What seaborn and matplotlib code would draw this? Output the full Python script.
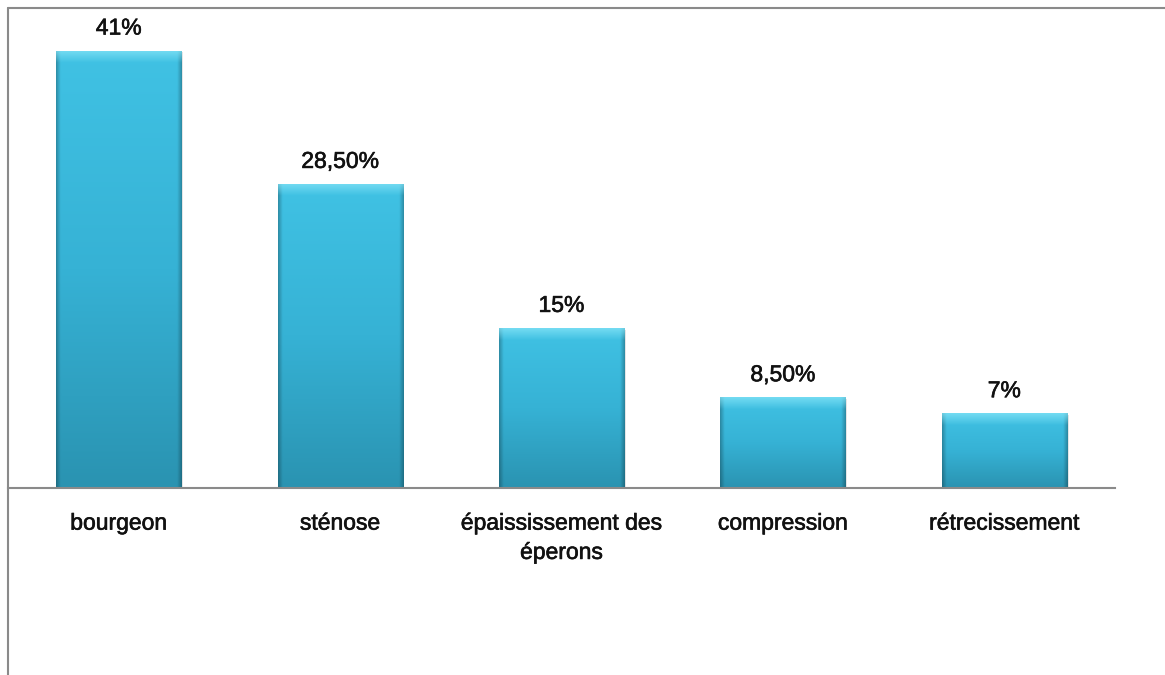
import numpy as np
import pandas as pd
import matplotlib
matplotlib.use("Agg")
import matplotlib.pyplot as plt
import matplotlib.patheffects as pe
from matplotlib.lines import Line2D
import seaborn as sns

# Data
categories = ["bourgeon", "sténose", "épaississement des\néperons", "compression", "rétrecissement"]
values = [41, 28.5, 15, 8.5, 7]


def fr_percent(v):
    if float(v).is_integer():
        return f"{int(v)}%"
    return f"{v:.2f}".replace(".", ",") + "%"


value_labels = [fr_percent(v) for v in values]

df = pd.DataFrame({"categorie": categories, "pourcentage": values})

sns.set_theme(style="white")
plt.rcParams["font.family"] = ["Liberation Sans", "DejaVu Sans"]

W, H = 1165, 675
fig = plt.figure(figsize=(W / 100, H / 100), dpi=100)
fig.patch.set_facecolor("white")
ax = fig.add_axes([8 / W, 187 / H, 1107 / W, 480 / H])

sns.barplot(data=df, x="categorie", y="pourcentage", color="#34AFD2",
            width=0.565, ax=ax, saturation=1, edgecolor="none")

ax.set_xlim(-0.5, 4.5)
ax.set_ylim(0, 45)

# Bevelled gradient fill for each bar
top_c = np.array([0x40, 0xC2, 0xE4]) / 255
mid_c = np.array([0x36, 0xB2, 0xD5]) / 255
bot_c = np.array([0x2A, 0x93, 0xB1]) / 255
ny, nx = 300, 120
t = np.linspace(0, 1, ny)[:, None, None]  # 0 at top, 1 at bottom
base = np.where(t < 0.5,
                top_c * (1 - 2 * t) + mid_c * (2 * t),
                mid_c * (2 - 2 * t) + bot_c * (2 * t - 1))
base = np.repeat(base, nx, axis=1)
xs = np.linspace(0, 1, nx)[None, :]
edge = np.minimum(xs, 1 - xs)
shade = 1 - 0.25 * np.clip(1 - edge / 0.035, 0, 1)
img = base * shade[..., None]
hi = np.array([0x8A, 0xE6, 0xF8]) / 255

for patch in ax.patches:
    x0, y0 = patch.get_x(), patch.get_y()
    w, h = patch.get_width(), patch.get_height()
    # light bevel band at the top
    band = 12.0 / (h * 10.67) if h > 0 else 0
    tt = np.linspace(0, 1, ny)[:, None]
    hl = np.clip(1 - tt / max(band, 1e-6), 0, 1)
    img_b = img * (1 - 0.7 * hl[..., None]) + hi[None, None, :] * 0.7 * hl[..., None]
    im = ax.imshow(img_b, extent=[x0, x0 + w, y0, y0 + h], aspect="auto",
                   origin="upper", zorder=patch.get_zorder() + 0.1,
                   interpolation="bilinear")
    im.set_clip_path(patch)
    # soft shadow
    ax.add_patch(plt.Rectangle((x0 + 0.008, y0), w, h - 0.15, facecolor="#000000",
                               alpha=0.10, edgecolor="none", zorder=patch.get_zorder() - 0.1))

ax.set_xlim(-0.5, 4.5)
ax.set_ylim(0, 45)

thick = [pe.withStroke(linewidth=0.45, foreground="#111111")]

# Value labels
for i, (v, lab) in enumerate(zip(values, value_labels)):
    ax.annotate(lab, (i, v), xytext=(0, 8), textcoords="offset points",
                ha="center", va="bottom", fontsize=16.5, color="#111111",
                path_effects=thick)

ax.set_xlabel("")
ax.set_ylabel("")
ax.set_yticks([])
ax.tick_params(axis="x", length=0, pad=17, labelsize=16.5, labelcolor="#111111")
for lbl in ax.get_xticklabels():
    lbl.set_linespacing(1.35)
    lbl.set_horizontalalignment("center")
    lbl.set_path_effects(thick)

for s in ["top", "right", "left"]:
    ax.spines[s].set_visible(False)
ax.spines["bottom"].set_color("#8a8a8a")
ax.spines["bottom"].set_linewidth(1.5)

# Chart area border
fig.add_artist(Line2D([8 / W, 8 / W], [0, 1 - 8 / H], transform=fig.transFigure,
                      color="#8a8a8a", linewidth=1.5))
fig.add_artist(Line2D([8 / W, 1], [1 - 8 / H, 1 - 8 / H], transform=fig.transFigure,
                      color="#8a8a8a", linewidth=1.5))

fig.savefig("out.png", dpi=100, facecolor="white")
